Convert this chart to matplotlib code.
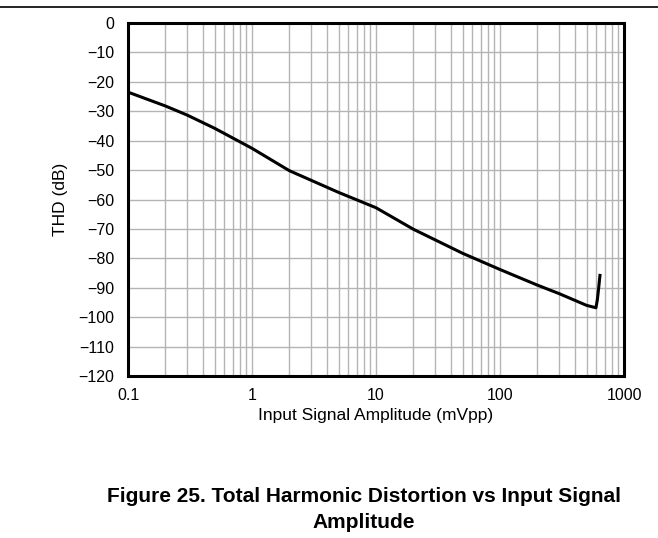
import matplotlib
matplotlib.use("Agg")
import matplotlib.pyplot as plt
from matplotlib.ticker import FixedLocator, NullFormatter, LogLocator
from matplotlib.lines import Line2D

# THD curve
amplitude_mvpp = [0.1, 0.2, 0.3, 0.5, 1, 2, 5, 10, 20, 40, 50, 100, 200, 300, 500, 594, 610, 625, 640]
thd_db = [-23.5, -28.2, -31.3, -35.8, -42.6, -50.2, -57.6, -62.8, -70.1, -76.3, -78.3, -83.8, -89.1, -92.0, -96.0, -96.8, -94.0, -90.0, -85.8]

x_ticks = [0.1, 1, 10, 100, 1000]
x_tick_labels = ["0.1", "1", "10", "100", "1000"]
y_ticks = list(range(-120, 1, 10))

plt.rcParams['font.family'] = ['Liberation Sans', 'DejaVu Sans']

fig = plt.figure(figsize=(6.58, 5.38), dpi=100)
ax = fig.add_axes([128 / 658, 1 - 376 / 538, (624 - 128) / 658, (376 - 23) / 538])

ax.plot(amplitude_mvpp, thd_db, color='black', linewidth=2.2, solid_joinstyle='round')

ax.set_xscale('log')
ax.set_xlim(0.1, 1000)
ax.set_ylim(-120, 0)
ax.xaxis.set_major_locator(FixedLocator(x_ticks))
ax.set_xticklabels(x_tick_labels)
ax.xaxis.set_minor_locator(LogLocator(base=10, subs=range(2, 10)))
ax.xaxis.set_minor_formatter(NullFormatter())
ax.set_yticks(y_ticks)

ax.grid(True, which='major', color='#b4b4b4', linewidth=1.0)
ax.grid(True, which='minor', axis='x', color='#b4b4b4', linewidth=1.0)
ax.set_axisbelow(True)

ax.tick_params(which='both', length=0, labelsize=11.5, colors='black')
ax.tick_params(axis='y', pad=10)
ax.tick_params(axis='x', pad=9)
for s in ax.spines.values():
    s.set_linewidth(2.2)
    s.set_color('black')

ax.set_xlabel('Input Signal Amplitude (mVpp)', fontsize=12.5, labelpad=3)
ax.set_ylabel('THD (dB)', fontsize=12.5, labelpad=7)

# separator line along the top of the page
fig.add_artist(Line2D([0, 1], [1 - 7 / 538, 1 - 7 / 538], transform=fig.transFigure,
                      color='black', linewidth=1.2))

fig.text(364 / 658, 1 - 502 / 538, 'Figure 25. Total Harmonic Distortion vs Input Signal',
         ha='center', va='baseline', fontsize=15, fontweight='bold')
fig.text(364 / 658, 1 - 527.5 / 538, 'Amplitude',
         ha='center', va='baseline', fontsize=15, fontweight='bold')

fig.savefig('out.png', dpi=100)
